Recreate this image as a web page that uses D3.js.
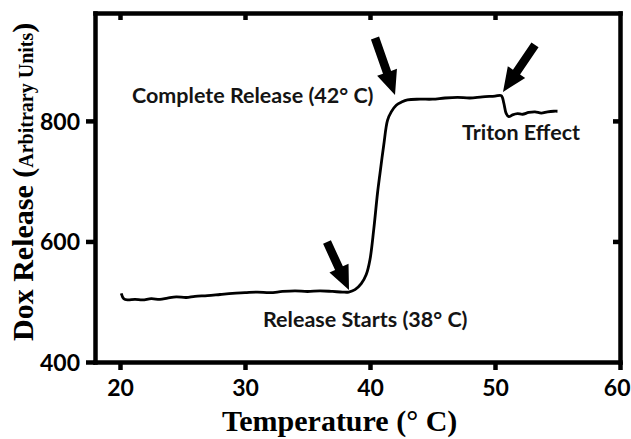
<!DOCTYPE html>
<html>
<head>
<meta charset="utf-8">
<script src="https://cdn.jsdelivr.net/npm/d3@7"></script>
<style>
  html, body { margin: 0; padding: 0; background: #fff; }
  svg { display: block; }
</style>
</head>
<body>
<svg id="chart" width="631" height="439"></svg>
<script>
// ---- data ----
const temperature = [20.1, 20.3, 20.6, 21.2, 21.8, 22.5, 23.2, 23.8, 24.5, 25.3, 26, 27, 28, 29, 30, 31, 32, 33, 34, 35, 36, 37, 37.8, 38.3, 38.8, 39.3, 39.7, 40.0, 40.3, 40.6, 40.8, 41.1, 41.4, 41.7, 42.1, 42.5, 43, 44, 45, 46, 47, 48, 49, 50, 50.5, 50.7, 50.9, 51.1, 51.4, 51.8, 52.2, 52.7, 53.2, 53.7, 54.2, 54.7, 55.0];
const doxRelease = [514, 505, 503, 504, 503, 505, 504, 506, 508, 507, 509, 510, 512, 514, 515, 516, 515, 517, 518, 517, 518, 517, 516, 516, 520, 530, 545, 570, 620, 680, 713, 760, 801, 815, 826, 831, 835, 836, 836, 838, 839, 838, 840, 841, 842, 830, 812, 807, 810, 812, 811, 814, 815, 813, 815, 816, 816];
const xTicks = [20, 30, 40, 50, 60];
const yTicks = [400, 600, 800];
const labelTexts = ["Complete Release (42° C)", "Triton Effect", "Release Starts (38° C)"];
const labelAt = [[20.96, 829.7], [47.36, 768.3], [31.44, 458.1]];
const arrowFrom = [[36.56, 599], [40.4, 937.5], [53.2, 926]];
const arrowTo = [[38.32, 519.5], [42.0, 843], [50.64, 848]];

const W = 631;
const svg = d3.select("#chart");
const x = d3.scaleLinear().domain([18, 60]).range([95, 620]);
const y = d3.scaleLinear().domain([400, 979]).range([362, 13]);

const tickFont = "Lato, 'Open Sans', sans-serif";
const serif = "'Liberation Serif', 'DejaVu Serif', serif";

// frame: top and right with inward ticks
const gTop = svg.append("g").attr("transform", `translate(0,${y.range()[1]})`)
  .call(d3.axisBottom(x).tickValues([20, 30, 40, 50]).tickSize(7).tickSizeOuter(0).tickFormat(""));
const gRight = svg.append("g").attr("transform", `translate(${x.range()[1]},0)`)
  .call(d3.axisLeft(y).tickValues([600, 800]).tickSize(7).tickSizeOuter(0).tickFormat(""));

// bottom and left axes
const gBottom = svg.append("g").attr("transform", `translate(0,${y.range()[0]})`)
  .call(d3.axisBottom(x).tickValues(xTicks).tickSize(8).tickSizeOuter(0).tickPadding(10));
const gLeft = svg.append("g").attr("transform", `translate(${x.range()[0]},0)`)
  .call(d3.axisLeft(y).tickValues(yTicks).tickSize(9).tickSizeOuter(0).tickPadding(6));

[gTop, gRight, gBottom, gLeft].forEach(g => {
  g.select(".domain").attr("stroke", "#000").attr("stroke-width", 4.5).attr("stroke-linecap", "square");
  g.selectAll(".tick line").attr("stroke", "#000").attr("stroke-width", 4.5);
  g.selectAll(".tick text").attr("fill", "#000")
    .style("font-family", tickFont).style("font-weight", "bold").style("font-size", "23px");
});
gBottom.selectAll(".tick text").attr("dy", "0.71em");
gLeft.selectAll(".tick text").attr("dy", "0.36em");
// keep the last x tick label inside the picture
gBottom.selectAll(".tick text").each(function(d) {
  const bb = this.getBBox();
  const right = x(d) + bb.x + bb.width;
  if (right > W - 1) d3.select(this).attr("x", (W - 1) - right);
});

// curve
const pts = temperature.map((t, i) => [t, doxRelease[i]]);
svg.append("path")
  .datum(pts)
  .attr("fill", "none")
  .attr("stroke", "#000")
  .attr("stroke-width", 2.8)
  .attr("stroke-linejoin", "round")
  .attr("d", d3.line().x(d => x(d[0])).y(d => y(d[1])).curve(d3.curveCatmullRom.alpha(0.5)));

// arrows
arrowFrom.forEach((a, i) => {
  const x0 = x(a[0]), y0 = y(a[1]);
  const x1 = x(arrowTo[i][0]), y1 = y(arrowTo[i][1]);
  const dx = x1 - x0, dy = y1 - y0, L = Math.hypot(dx, dy);
  const ux = dx / L, uy = dy / L, nx = -uy, ny = ux;
  const headL = 24, headW = 10.5, shaftW = 4.3;
  const bx = x1 - ux * headL, by = y1 - uy * headL;
  const p = [
    [x0 + nx * shaftW, y0 + ny * shaftW],
    [bx + nx * shaftW, by + ny * shaftW],
    [bx + nx * headW, by + ny * headW],
    [x1, y1],
    [bx - nx * headW, by - ny * headW],
    [bx - nx * shaftW, by - ny * shaftW],
    [x0 - nx * shaftW, y0 - ny * shaftW]
  ];
  svg.append("path").attr("d", "M" + p.map(q => q.join(",")).join("L") + "Z").attr("fill", "#000");
});

// annotation labels
labelTexts.forEach((t, i) => {
  svg.append("text")
    .attr("x", x(labelAt[i][0]))
    .attr("y", y(labelAt[i][1]))
    .attr("fill", "#141414")
    .style("font-family", tickFont).style("font-weight", "bold").style("font-size", "21.5px")
    .text(t);
});

// x axis title
svg.append("text")
  .attr("x", 222).attr("y", 431)
  .style("font-family", serif).style("font-weight", "bold").style("font-size", "30px")
  .attr("fill", "#000")
  .text("Temperature (° C)");

// y axis title
const yt = svg.append("text")
  .attr("transform", "translate(33,341) rotate(-90)")
  .style("font-family", serif).style("font-weight", "bold").attr("fill", "#000");
yt.append("tspan").style("font-size", "30px").text("Dox Release (");
yt.append("tspan").style("font-size", "20px").text("Arbitrary Units");
yt.append("tspan").style("font-size", "30px").text(")");
</script>
</body>
</html>
